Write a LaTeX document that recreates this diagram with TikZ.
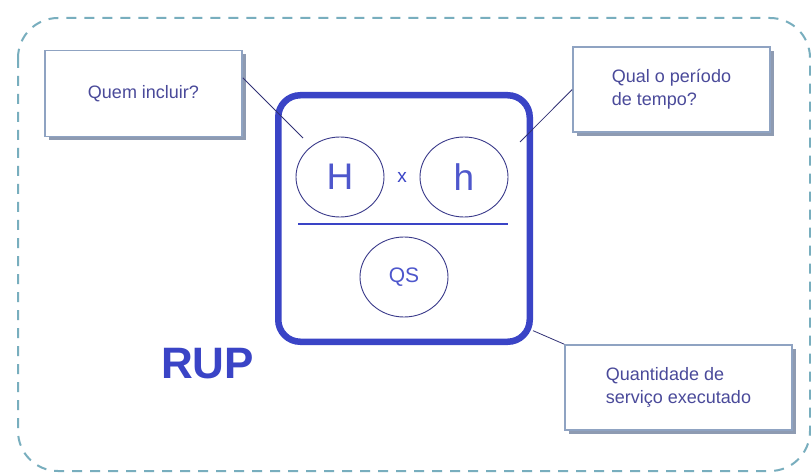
\documentclass[tikz,border=0pt]{standalone}
\usepackage{fontspec}
\setmainfont{Liberation Sans}
\usetikzlibrary{shapes.geometric}
\usetikzlibrary{shadows}
\definecolor{rupblue}{HTML}{3A44C6}
\definecolor{framecol}{HTML}{78AEBE}
\definecolor{boxline}{HTML}{8FA3C2}
\definecolor{boxshadow}{HTML}{8E9BB2}
\definecolor{txtcol}{HTML}{4A4A9A}
\definecolor{circcol}{HTML}{3A3A8A}

\begin{document}
\begin{tikzpicture}[x=1pt,y=-1pt,
    note/.style={draw=boxline,line width=1.6pt,fill=white,
      minimum width=197pt,minimum height=86pt,align=left,text=txtcol,
      font=\fontsize{18}{23}\selectfont,
      drop shadow={shadow xshift=4pt,shadow yshift=-4pt,fill=boxshadow,opacity=1}},
    var/.style={draw=circcol,ellipse,line width=0.9pt,minimum width=88pt,
      minimum height=80pt,inner sep=0pt,text=rupblue!90!white},
    conn/.style={draw=circcol!85!black,line width=0.8pt}]
      \useasboundingbox (0,0) rectangle (811,473);
      \fill[white] (0,0) rectangle (811,473);
      \draw[framecol,line width=2pt,dash pattern=on 10pt off 8pt,rounded corners=40pt]
        (18,18) rectangle (810,471);

      \node[note] (who) at (143.5,93.5) {Quem incluir?};
      \node[note,minimum height=85pt] (when) at (671.5,89.5) {Qual o período\\de tempo?};
      \node[note,minimum width=227pt,minimum height=85pt] (qty) at (678.5,387.5)
        {Quantidade de\\serviço executado};

      \node[draw=rupblue,line width=6.5pt,rounded corners=22pt,minimum width=251.5pt,
        minimum height=246.5pt] (frac) at (404,218.5) {};
      \node[var,font=\fontsize{37}{37}\selectfont] (H) at (340,177) {H};
      \node[var,font=\fontsize{37}{37}\selectfont] (h) at (464,177) {h};
      \node[text=rupblue,font=\fontsize{19}{19}\selectfont] (times) at (402,177) {x};
      \draw[rupblue,line width=1.5pt] (298,224) -- (508,224);
      \node[var,font=\fontsize{21}{21}\selectfont] (QS) at (404,277) {QS};

      \node[text=rupblue,font=\bfseries\fontsize{44}{44}\selectfont] (rup) at (207.5,364) {RUP};

      \coordinate (Hpt) at (303,138);
      \coordinate (hpt) at (520,142);
      \draw[conn] (who.9) -- (Hpt);
      \draw[conn] (when.west) -- (hpt);
      \draw[conn] (frac.-41) -- (qty.north west);
    \end{tikzpicture}
\end{document}
